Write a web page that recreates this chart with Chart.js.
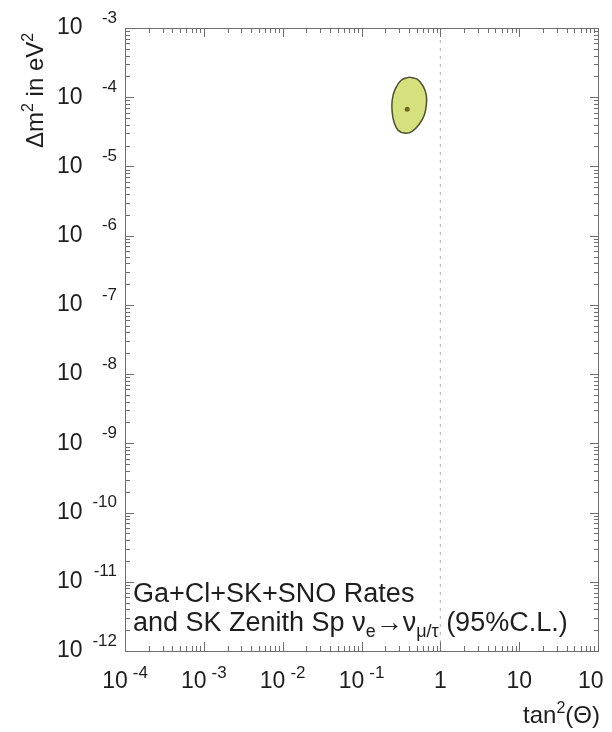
<!DOCTYPE html>
<html>
<head>
<meta charset="utf-8">
<script src="https://cdn.jsdelivr.net/npm/chart.js@4.4.0/dist/chart.umd.min.js"></script>
<style>
  html, body { margin: 0; padding: 0; background: #ffffff; }
  canvas { display: block; }
</style>
</head>
<body>
<canvas id="c" width="612" height="732"></canvas>
<script>
// Allowed region (95% C.L.) in the tan²θ – Δm² plane, traced around the contour
const contourTan2 = [0.403, 0.509, 0.607, 0.664, 0.664, 0.625, 0.540, 0.440, 0.358, 0.292, 0.259, 0.245, 0.245, 0.267, 0.318, 0.403];
const contourDm2  = [1.95e-4, 1.82e-4, 1.44e-4, 1.07e-4, 7.66e-5, 5.48e-5, 4.06e-5, 3.21e-5, 3.01e-5, 3.32e-5, 4.34e-5, 6.06e-5, 9.05e-5, 1.31e-4, 1.76e-4, 1.95e-4];

// Best-fit point
const bestTan2 = [0.38];
const bestDm2  = [6.7e-5];

// Maximal mixing reference line
const mixingTan2 = [1, 1];
const mixingDm2  = [1e-12, 1e-3];

// Axis decades and their labels (base, exponent)
const xDecades = [-4, -3, -2, -1, 0, 1, 2];
const xLabels  = [['10', '-4'], ['10', '-3'], ['10', '-2'], ['10', '-1'], ['1', ''], ['10', ''], ['10', '']];
const yDecades = [-3, -4, -5, -6, -7, -8, -9, -10, -11, -12];
const yLabels  = [['10', '-3'], ['10', '-4'], ['10', '-5'], ['10', '-6'], ['10', '-7'], ['10', '-8'], ['10', '-9'], ['10', '-10'], ['10', '-11'], ['10', '-12']];

const FONT = '"Liberation Sans", Arial, Helvetica, sans-serif';
const TEXT = '#1e1e1e';
const AXIS = '#6e6e6e';

const pts = (xs, ys) => xs.map((x, i) => ({ x: x, y: ys[i] }));

// Frame, inward log ticks, tick labels, axis titles and the legend text
const decorations = {
  id: 'decorations',
  afterDraw(chart) {
    const ctx = chart.ctx;
    const a = chart.chartArea;
    const xs = chart.scales.x, ys = chart.scales.y;
    const L = Math.round(a.left), R = Math.round(a.right);
    const T = Math.round(a.top), B = Math.round(a.bottom);
    ctx.save();

    // frame
    ctx.fillStyle = AXIS;
    ctx.fillRect(L, T, R - L + 1, 1);
    ctx.fillRect(L, B, R - L + 1, 1);
    ctx.fillRect(L, T, 1, B - T + 1);
    ctx.fillRect(R, T, 1, B - T + 1);

    // inward ticks on all four sides
    const xMin = xDecades[0], xMax = xDecades[xDecades.length - 1];
    for (let d = xMin; d <= xMax; d++) {
      for (let m = 1; m <= 9; m++) {
        if (d === xMax && m > 1) break;
        const px = Math.round(xs.getPixelForValue(m * Math.pow(10, d)));
        const len = m === 1 ? 9 : 5;
        ctx.fillRect(px, B - len, 1, len);
        ctx.fillRect(px, T, 1, len);
      }
    }
    for (let d = -12; d <= -3; d++) {
      for (let m = 1; m <= 9; m++) {
        if (d === -3 && m > 1) break;
        const py = Math.round(ys.getPixelForValue(m * Math.pow(10, d)));
        const len = m === 1 ? 9 : 5;
        ctx.fillRect(L, py, len, 1);
        ctx.fillRect(R - len + 1, py, len, 1);
      }
    }

    ctx.fillStyle = TEXT;
    ctx.textBaseline = 'middle';

    // x tick labels
    xDecades.forEach((d, i) => {
      const px = xs.getPixelForValue(Math.pow(10, d));
      const [b, e] = xLabels[i];
      ctx.font = '23px ' + FONT;
      const wb = ctx.measureText(b).width;
      ctx.font = '17px ' + FONT;
      const we = e ? ctx.measureText(e).width + 5 : 0;
      let x0 = px - (wb + we) / 2;
      if (i === xDecades.length - 1) x0 = 578;
      ctx.textAlign = 'left';
      ctx.font = '23px ' + FONT;
      ctx.fillText(b, x0, 682);
      if (e) {
        ctx.font = '17px ' + FONT;
        ctx.fillText(e, x0 + wb + 5, 673);
      }
    });

    // y tick labels
    yDecades.forEach((d, i) => {
      const py = ys.getPixelForValue(Math.pow(10, d));
      const [b, e] = yLabels[i];
      ctx.textAlign = 'left';
      ctx.font = '23px ' + FONT;
      ctx.fillText(b, 57, py);
      ctx.textAlign = 'right';
      ctx.font = '17px ' + FONT;
      ctx.fillText(e, 117, py - 10);
    });

    // y axis title, rotated
    ctx.save();
    ctx.translate(43, 148);
    ctx.rotate(-Math.PI / 2);
    ctx.textBaseline = 'alphabetic';
    drawRuns(ctx, 0, 0, [
      { t: 'Δm', s: 24 }, { t: '2', s: 16, dy: -10 },
      { t: ' in eV', s: 24 }, { t: '2', s: 16, dy: -10 }
    ]);
    ctx.restore();

    // x axis title, right-aligned under the axis
    ctx.textBaseline = 'alphabetic';
    const xt = [{ t: 'tan', s: 24 }, { t: '2', s: 16, dy: -10 }, { t: '(Θ)', s: 24 }];
    const w = runsWidth(ctx, xt);
    drawRuns(ctx, 600 - w, 723, xt);

    // legend text inside the plot
    drawRuns(ctx, 133, 602, [{ t: 'Ga+Cl+SK+SNO Rates', s: 27 }]);
    drawRuns(ctx, 133, 631, [
      { t: 'and SK Zenith Sp ν', s: 27 }, { t: 'e', s: 18, dy: 6 },
      { t: '→ν', s: 27 }, { t: 'μ/τ', s: 18, dy: 6 },
      { t: ' (95%C.L.)', s: 27 }
    ]);

    ctx.restore();
  }
};

function runsWidth(ctx, runs) {
  let w = 0;
  runs.forEach(r => { ctx.font = r.s + 'px ' + FONT; w += ctx.measureText(r.t).width; });
  return w;
}
function drawRuns(ctx, x, y, runs) {
  ctx.textAlign = 'left';
  runs.forEach(r => {
    ctx.font = r.s + 'px ' + FONT;
    ctx.fillText(r.t, x, y + (r.dy || 0));
    x += ctx.measureText(r.t).width;
  });
}

new Chart(document.getElementById('c'), {
  type: 'scatter',
  data: {
    datasets: [
      {
        label: 'best fit',
        order: 0,
        data: pts(bestTan2, bestDm2),
        pointRadius: 2.5,
        pointBackgroundColor: '#6b6a1e',
        pointBorderWidth: 0
      },
      {
        label: '95% C.L.',
        order: 1,
        data: pts(contourTan2, contourDm2),
        showLine: true,
        tension: 0.4,
        borderColor: '#4e4e34',
        borderWidth: 1.5,
        backgroundColor: '#d6e07c',
        pointRadius: 0,
        fill: 'shape'
      },
      {
        label: 'maximal mixing',
        order: 2,
        data: pts(mixingTan2, mixingDm2),
        showLine: true,
        borderColor: '#b0b0b0',
        borderWidth: 1,
        borderDash: [3, 5],
        pointRadius: 0,
        fill: false
      }
    ]
  },
  options: {
    responsive: false,
    animation: false,
    devicePixelRatio: 1,
    layout: { padding: { left: 125, right: 14, top: 28, bottom: 81 } },
    plugins: { legend: { display: false }, tooltip: { enabled: false } },
    scales: {
      x: { type: 'logarithmic', min: 1e-4, max: 1e2, display: false },
      y: { type: 'logarithmic', min: 1e-12, max: 1e-3, display: false }
    }
  },
  plugins: [decorations]
});
</script>
</body>
</html>
